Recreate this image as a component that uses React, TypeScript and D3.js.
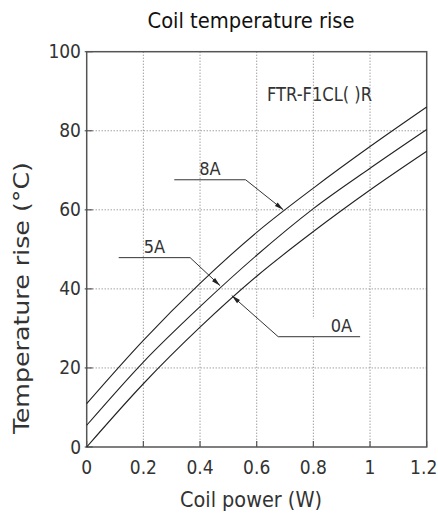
import React, { useEffect, useRef } from "react";
import * as d3 from "d3";

// ---- data ----
const xValues = [0, 0.2, 0.4, 0.6, 0.8, 1.0, 1.2];
const series8A = [11, 27, 41.4, 54.3, 65.5, 76, 86];
const series5A = [5.5, 21.5, 35.5, 48.5, 60.3, 70.5, 80.3];
const series0A = [0, 16, 30.3, 43.2, 54.5, 65, 74.8];
const seriesNames = ["8A", "5A", "0A"];
const xTicks = [0, 0.2, 0.4, 0.6, 0.8, 1, 1.2];
const yTicks = [0, 20, 40, 60, 80, 100];
// annotation: [tipX, tipY, elbowX, elbowY, endX] in data units
const annot8A = [0.694, 60, 0.561, 67.6, 0.309];
const annot5A = [0.471, 40.8, 0.365, 47.9, 0.113];
const annot0A = [0.512, 38.3, 0.676, 27.9, 0.965];
const title = "Coil temperature rise";
const xLabel = "Coil power (W)";
const yLabel = "Temperature rise (°C)";
const modelLabel = "FTR-F1CL( )R";

const W = 438;
const H = 519;
const FONT = "'Liberation Sans Narrow', 'DejaVu Sans Condensed', 'Noto Sans', sans-serif";

export default function App() {
  const ref = useRef<SVGSVGElement>(null);

  useEffect(() => {
    const svg = d3.select(ref.current);
    svg.selectAll("*").remove();

    const x = d3.scaleLinear().domain([0, 1.2]).range([86.7, 426.7]);
    const y = d3.scaleLinear().domain([0, 100]).range([447, 51.7]);
    const textColor = "#333";
    const frameColor = "#555";

    svg.append("rect").attr("width", W).attr("height", H).attr("fill", "#fff");

    // grid
    const g = svg.append("g");
    g.selectAll("line.vg")
      .data(xTicks.slice(1, -1))
      .join("line")
      .attr("x1", (d) => x(d))
      .attr("x2", (d) => x(d))
      .attr("y1", y(100))
      .attr("y2", y(0))
      .attr("stroke", "#777")
      .attr("stroke-width", 1)
      .attr("stroke-dasharray", "1,2");
    g.selectAll("line.hg")
      .data(yTicks.slice(1, -1))
      .join("line")
      .attr("x1", x(0))
      .attr("x2", x(1.2))
      .attr("y1", (d) => y(d))
      .attr("y2", (d) => y(d))
      .attr("stroke", "#777")
      .attr("stroke-width", 1)
      .attr("stroke-dasharray", "1,2");

    // white mask behind 0A label
    svg
      .append("rect")
      .attr("x", x(0.78))
      .attr("y", y(32.5))
      .attr("width", x(0.82) - x(0.78))
      .attr("height", y(27.9) - y(32.5) - 1)
      .attr("fill", "#fff");

    // ticks (inward)
    svg
      .append("g")
      .selectAll("line")
      .data(xTicks)
      .join("line")
      .attr("x1", (d) => x(d))
      .attr("x2", (d) => x(d))
      .attr("y1", y(0))
      .attr("y2", y(0) - 6)
      .attr("stroke", frameColor)
      .attr("stroke-width", 1.2);
    svg
      .append("g")
      .selectAll("line")
      .data(yTicks)
      .join("line")
      .attr("x1", x(0) - 2)
      .attr("x2", x(0) + 6)
      .attr("y1", (d) => y(d))
      .attr("y2", (d) => y(d))
      .attr("stroke", frameColor)
      .attr("stroke-width", 1.2);

    // frame
    svg
      .append("rect")
      .attr("x", x(0))
      .attr("y", y(100))
      .attr("width", x(1.2) - x(0))
      .attr("height", y(0) - y(100))
      .attr("fill", "none")
      .attr("stroke", frameColor)
      .attr("stroke-width", 1.5);

    // curves
    const line = d3
      .line<number>()
      .x((_, i) => x(xValues[i]))
      .y((d) => y(d))
      .curve(d3.curveMonotoneX);
    [series8A, series5A, series0A].forEach((s, i) => {
      svg
        .append("path")
        .attr("d", line(s))
        .attr("fill", "none")
        .attr("stroke", "#222")
        .attr("stroke-width", 1.1)
        .attr("data-name", seriesNames[i]);
    });

    // annotations
    const annots = [annot8A, annot5A, annot0A];
    annots.forEach((a, i) => {
      const [tx, ty, ex, ey, endx] = a;
      const p0 = [x(tx), y(ty)];
      const p1 = [x(ex), y(ey)];
      const p2 = [x(endx), y(ey)];
      svg
        .append("polyline")
        .attr("points", [p2, p1, p0].map((p) => p.join(",")).join(" "))
        .attr("fill", "none")
        .attr("stroke", "#333")
        .attr("stroke-width", 1);
      // arrowhead
      const dx = p0[0] - p1[0];
      const dy = p0[1] - p1[1];
      const len = Math.hypot(dx, dy);
      const ux = dx / len;
      const uy = dy / len;
      const L = 9;
      const Wd = 2.2;
      const bx = p0[0] - ux * L;
      const by = p0[1] - uy * L;
      svg
        .append("path")
        .attr(
          "d",
          `M${p0[0]},${p0[1]}L${bx - uy * Wd},${by + ux * Wd}L${bx + uy * Wd},${by - ux * Wd}Z`
        )
        .attr("fill", "#222");
      // label text
      const isLeft = endx < ex;
      const lx = isLeft ? (p2[0] + p1[0]) / 2 : p2[0] - 8;
      svg
        .append("text")
        .attr("x", lx)
        .attr("y", p1[1] - 5)
        .attr("text-anchor", isLeft ? "middle" : "end")
        .attr("font-family", FONT)
        .attr("font-size", 18)
        .attr("fill", textColor)
        .text(seriesNames[i]);
    });

    // model label
    svg
      .append("text")
      .attr("x", x(1.007))
      .attr("y", y(87.5))
      .attr("text-anchor", "end")
      .attr("font-family", FONT)
      .attr("font-size", 19)
      .attr("fill", textColor)
      .attr("textLength", 105)
      .attr("lengthAdjust", "spacingAndGlyphs")
      .text(modelLabel);

    // tick labels
    svg
      .append("g")
      .selectAll("text")
      .data(xTicks)
      .join("text")
      .attr("x", (d) => x(d) - (d === 1.2 ? 3 : 0))
      .attr("y", 474)
      .attr("text-anchor", "middle")
      .attr("font-family", FONT)
      .attr("font-size", 19)
      .attr("fill", textColor)
      .text((d) => String(d));
    svg
      .append("g")
      .selectAll("text")
      .data(yTicks)
      .join("text")
      .attr("x", 81)
      .attr("y", (d) => y(d) + 6.5)
      .attr("text-anchor", "end")
      .attr("font-family", FONT)
      .attr("font-size", 19)
      .attr("fill", textColor)
      .text((d) => String(d));

    // titles
    svg
      .append("text")
      .attr("x", 251)
      .attr("y", 28)
      .attr("text-anchor", "middle")
      .attr("font-family", FONT)
      .attr("font-size", 21)
      .attr("fill", "#111")
      .attr("textLength", 207)
      .attr("lengthAdjust", "spacingAndGlyphs")
      .text(title);
    svg
      .append("text")
      .attr("x", 251)
      .attr("y", 507)
      .attr("text-anchor", "middle")
      .attr("font-family", FONT)
      .attr("font-size", 21)
      .attr("fill", textColor)
      .attr("textLength", 142)
      .attr("lengthAdjust", "spacingAndGlyphs")
      .text(xLabel);
    svg
      .append("text")
      .attr("transform", `translate(29,298) rotate(-90)`)
      .attr("text-anchor", "middle")
      .attr("font-family", FONT)
      .attr("font-size", 21.5)
      .attr("fill", textColor)
      .attr("textLength", 272)
      .attr("lengthAdjust", "spacingAndGlyphs")
      .text(yLabel);
  }, []);

  return (
    <svg
      ref={ref}
      width={W}
      height={H}
      style={{ position: "absolute", left: 0, top: 0, display: "block" }}
    />
  );
}
